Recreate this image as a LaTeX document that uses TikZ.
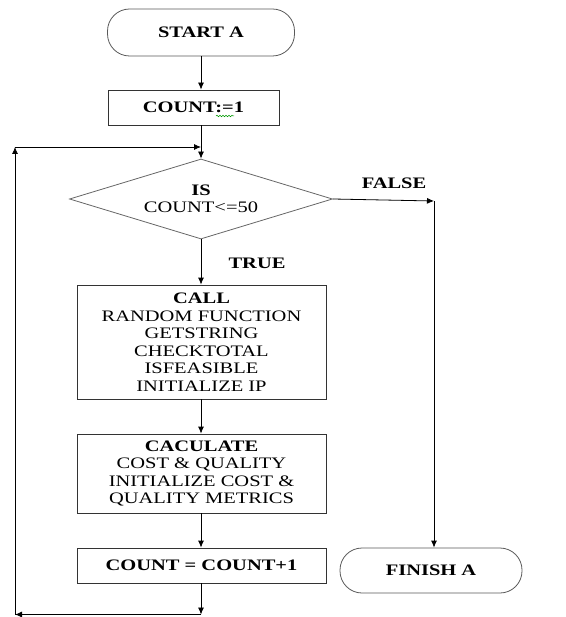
\documentclass[tikz,border=0pt]{standalone}
\usepackage{fontspec}
\setmainfont{Liberation Serif}[FakeStretch=1.28]
\usetikzlibrary{shapes.geometric,arrows.meta,decorations.pathmorphing}
\begin{document}
\begin{tikzpicture}[x=1pt,y=-1pt,
  every node/.style={font=\fontsize{16}{17.5}\selectfont, align=center, inner sep=0pt},
  term/.style={draw=black!65, line width=0.8pt, rounded corners=22pt},
  procbox/.style={draw=black!80, line width=0.8pt, minimum width=249pt},
  decbox/.style={draw=black!60, line width=0.8pt, shape=diamond, aspect=3.29, minimum width=263pt, minimum height=80pt},
  arr/.style={draw=black, line width=0.8pt, -{Latex[length=7pt,width=6pt]}},
  lbl/.style={font=\fontsize{16}{17.5}\selectfont\bfseries}]
\useasboundingbox (0,0) rectangle (565,617);

\node[term, minimum width=187pt, minimum height=47pt] (start) at (201,32.5) {\bfseries START A};
\node[procbox, minimum width=171pt, minimum height=35pt] (init) at (193.5,107.5) {\bfseries COUNT:=1};
\draw[green!60!black, line width=0.5pt, decorate, decoration={snake, amplitude=0.8pt, segment length=3pt}] (216,116) -- (234,116);
\node[decbox] (dec) at (201,199) {\bfseries IS\\COUNT<=50};
\node[procbox, minimum height=114pt] (call) at (201.5,342) {\bfseries CALL\\RANDOM FUNCTION\\GETSTRING\\CHECKTOTAL\\ISFEASIBLE\\INITIALIZE IP};
\node[procbox, minimum height=79pt] (calc) at (201.5,473.5) {\bfseries CACULATE\\COST \& QUALITY\\INITIALIZE COST \&\\QUALITY METRICS};
\node[procbox, minimum height=35pt] (inc) at (201.5,565.5) {\bfseries COUNT = COUNT+1};
\node[term, minimum width=182pt, minimum height=45pt] (fin) at (431,570.5) {\bfseries FINISH A};

\node[lbl] (tlab) at (257,263) {TRUE};
\node[lbl] (flab) at (394,183) {FALSE};

\coordinate (j) at (201,147);
\coordinate (b1) at (201,614.5);
\coordinate (b2) at (15,614.5);
\coordinate (b3) at (15,147);
\coordinate (fr) at (434,201);

\draw[arr] (start.south) -- (start.south |- init.north);
\draw[arr] (dec.north |- init.south) -- (dec.north);
\draw[arr] (dec.south) -- (dec.south |- call.north);
\draw[arr] (dec.south |- call.south) -- (dec.south |- calc.north);
\draw[arr] (dec.south |- calc.south) -- (dec.south |- inc.north);
\draw[arr] (dec.south |- inc.south) -- (b1);
\draw[arr] (b1) -- (b2);
\draw[arr] (b2) -- (b3);
\draw[arr] (b3) -- (j);
\draw[arr] (dec.east) -- (fr);
\draw[arr] (fr) -- (fr |- fin.north);
\end{tikzpicture}
\end{document}
